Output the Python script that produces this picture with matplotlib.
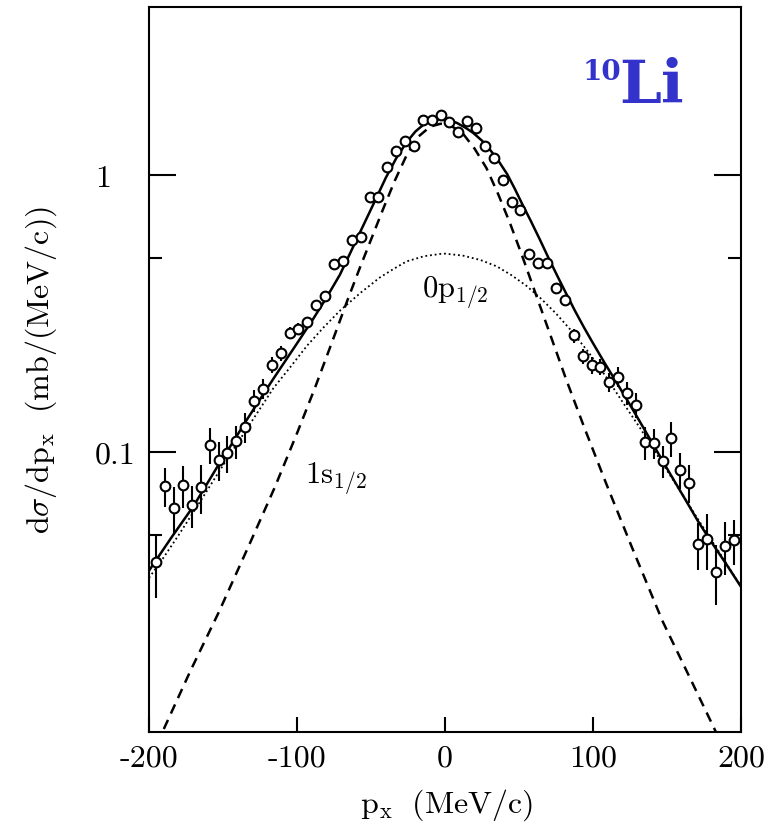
import matplotlib
matplotlib.use('Agg')
import matplotlib.pyplot as plt
from matplotlib.ticker import FixedLocator, FixedFormatter, NullFormatter

plt.rcParams['mathtext.fontset'] = 'cm'
plt.rcParams['axes.unicode_minus'] = False

# ---------------- data ----------------
px_data = [-195, -189, -183, -177, -171, -165, -159, -153, -147, -141,
           -135, -129, -123, -117, -111, -105, -99, -93, -87, -81,
           -75, -69, -63, -57, -51, -45, -39, -33, -27, -21,
           -15, -9, -3, 3, 9, 15, 21, 27, 33, 39,
           45, 51, 57, 63, 69, 75, 81, 87, 93, 99,
           105, 111, 117, 123, 129, 135, 141, 147, 153, 159,
           165, 171, 177, 183, 189, 195]
dsdp_data = [0.0402, 0.0754, 0.0626, 0.0760, 0.0641, 0.0747, 0.1063, 0.0936, 0.0992, 0.1093,
             0.1231, 0.1534, 0.1688, 0.2066, 0.2274, 0.2690, 0.2780, 0.2938, 0.3394, 0.3658,
             0.4761, 0.4873, 0.5810, 0.5957, 0.8295, 0.8329, 1.0688, 1.2157, 1.3209, 1.2705,
             1.5797, 1.5797, 1.6398, 1.5498, 1.4334, 1.5665, 1.4777, 1.2672, 1.1488, 0.9617,
             0.7990, 0.7459, 0.5164, 0.4825, 0.4801, 0.3918, 0.3537, 0.2634, 0.2212, 0.2056,
             0.2031, 0.1790, 0.1870, 0.1633, 0.1481, 0.1084, 0.1076, 0.0928, 0.1122, 0.0863,
             0.0775, 0.0464, 0.0485, 0.0370, 0.0459, 0.0480]
dsdp_err = [0.0105, 0.012, 0.012, 0.013, 0.011, 0.015, 0.016, 0.015, 0.015, 0.015,
            0.015, 0.014, 0.014, 0.014, 0.014, 0.014, 0.014, 0.014, 0.015, 0.015,
            0.016, 0.016, 0.017, 0.017, 0.02, 0.02, 0.02, 0.02, 0.02, 0.02,
            0.02, 0.02, 0.02, 0.02, 0.02, 0.02, 0.02, 0.02, 0.02, 0.02,
            0.018, 0.018, 0.016, 0.016, 0.016, 0.015, 0.015, 0.015, 0.014, 0.014,
            0.014, 0.014, 0.016, 0.016, 0.015, 0.015, 0.013, 0.012, 0.016, 0.013,
            0.012, 0.009, 0.011, 0.009, 0.010, 0.009]

# total (solid)
total_x = [-200, -185, -170, -160, -152, -143, -135, -125, -116, -107, -98, -89, -80, -71,
           -63, -55, -47, -40, -33, -26, -20, -14, -8, -3,
           2, 8, 14, 19, 25, 30, 36, 42, 47, 52, 58, 64, 70, 76, 82, 88, 94, 100,
           108, 116, 125, 134, 143, 152, 162, 171, 180, 190, 200]
total_y = [0.0373, 0.0490, 0.0637, 0.0780, 0.0918, 0.1091, 0.128, 0.1549, 0.1837, 0.2168,
           0.2559, 0.3027, 0.3614, 0.4365, 0.537, 0.661, 0.813, 0.977, 1.148, 1.312,
           1.435, 1.528, 1.578, 1.592,
           1.581, 1.542, 1.479, 1.419, 1.330, 1.242, 1.127, 1.007, 0.895, 0.789,
           0.682, 0.586, 0.501, 0.431, 0.372, 0.322, 0.281, 0.247,
           0.209, 0.178, 0.148, 0.1225, 0.1012, 0.0836, 0.0679, 0.0562, 0.0473, 0.0394, 0.0326]

# 0p1/2 (dotted)
p_x = [-200, -190, -180, -165, -152, -138, -127, -116, -104, -93, -82, -71, -57, -44,
       -35, -26, -14, -3, 0, 12, 24, 35, 45, 55, 65, 75, 85, 97, 109, 120, 132,
       148, 160, 170, 185, 200]
p_y = [0.0351, 0.0417, 0.0501, 0.0668, 0.0861, 0.1122, 0.138, 0.1698, 0.2042, 0.2427,
       0.2818, 0.3236, 0.3758, 0.4266, 0.4571, 0.4875, 0.5093, 0.5188,
       0.520, 0.5117, 0.4932, 0.4677, 0.4345, 0.3981, 0.3573, 0.3162, 0.2754, 0.2291,
       0.1862, 0.1514, 0.1216, 0.0891, 0.0708, 0.0582, 0.0437, 0.0327]

# 1s1/2 (dashed)
s_x = [-190, -172, -153, -132, -115, -100, -88, -76, -66, -58, -50, -42, -34, -26, -18, -10, -3,
       4, 12, 20, 28, 36, 44, 52, 60, 70, 82, 94, 109, 126, 147, 166, 183]
s_y = [0.0100, 0.01622, 0.0263, 0.0466, 0.0746, 0.1168, 0.1697, 0.2520, 0.3520, 0.4555,
       0.5841, 0.7491, 0.9517, 1.1764, 1.3753, 1.4945, 1.531,
       1.5066, 1.4125, 1.2445, 1.0593, 0.8511, 0.6683, 0.5129, 0.3890, 0.2754, 0.1820,
       0.1230, 0.0767, 0.0457, 0.0245, 0.0151, 0.00977]

xtick_vals = [-200, -100, 0, 100, 200]
xtick_labels = ['-200', '-100', '0', '100', '200']
ytick_vals = [0.1, 1]
ytick_labels = ['0.1', '1']
yminor_vals = [0.05, 0.5]

# ---------------- figure ----------------
W, H = 769, 829
fig = plt.figure(figsize=(W / 100, H / 100), dpi=100)
L, R, T, B = 149, 741, 8, 733
ax = fig.add_axes([L / W, 1 - B / H, (R - L) / W, (B - T) / H])
ax.set_yscale('log')
ax.set_xlim(-200, 200)
ax.set_ylim(0.009754, 4.04)

ax.plot(total_x, total_y, color='black', lw=1.8, zorder=3)
ax.plot(p_x, p_y, color='black', lw=1.3, linestyle=(0, (1, 1.6)), zorder=3)
ax.plot(s_x, s_y, color='black', lw=1.8, linestyle=(0, (4, 2.8)), zorder=3)
ax.errorbar(px_data, dsdp_data, yerr=dsdp_err, fmt='o', mfc='white', mec='black',
            mew=1.5, ms=7, ecolor='black', elinewidth=1.5, capsize=0, zorder=5)

for s in ax.spines.values():
    s.set_linewidth(1.5)

ax.xaxis.set_major_locator(FixedLocator(xtick_vals))
ax.xaxis.set_major_formatter(FixedFormatter(xtick_labels))
ax.xaxis.set_minor_locator(FixedLocator([]))
ax.yaxis.set_major_locator(FixedLocator(ytick_vals))
ax.yaxis.set_major_formatter(FixedFormatter(ytick_labels))
ax.yaxis.set_minor_locator(FixedLocator(yminor_vals))
ax.yaxis.set_minor_formatter(NullFormatter())

ax.tick_params(axis='x', which='major', direction='in', length=11, width=1.5,
               top=False, bottom=True, pad=9, labelsize=23)
ax.tick_params(axis='y', which='major', direction='in', length=19.5, width=1.5,
               left=True, right=True, pad=39, labelsize=23)
ax.tick_params(axis='y', which='minor', direction='in', length=9.5, width=1.5,
               left=True, right=True)
for lab in ax.get_xticklabels() + ax.get_yticklabels():
    lab.set_fontfamily('cmr10')
for lab in ax.get_yticklabels():
    lab.set_horizontalalignment('left')

ax.set_xlabel(r'$\mathrm{p_x}\ \ \mathrm{(MeV/c)}$', fontsize=23)
ax.xaxis.set_label_coords(0.503, -0.075)
ax.set_ylabel(r'$\mathrm{d}\sigma/\mathrm{dp_x}\ \ \mathrm{(mb/(MeV/c))}$', fontsize=23)
ax.yaxis.set_label_coords(-0.152, 0.5)

ax.text(7, 0.38, r'$\mathrm{0p}_{1/2}$', fontsize=22, ha='center', va='center')
ax.text(-74, 0.081, r'$\mathrm{1s}_{1/2}$', fontsize=22, ha='center', va='center')

blue = '#3333cc'
fig.text(583 / W, 1 - 80 / H, '10', fontsize=20, fontweight='bold', family='DejaVu Serif',
         color=blue, ha='left', va='baseline')
fig.text(619 / W, 1 - 103 / H, 'Li', fontsize=43, fontweight='bold', family='DejaVu Serif',
         color=blue, ha='left', va='baseline')

fig.savefig('out.png', dpi=100)
